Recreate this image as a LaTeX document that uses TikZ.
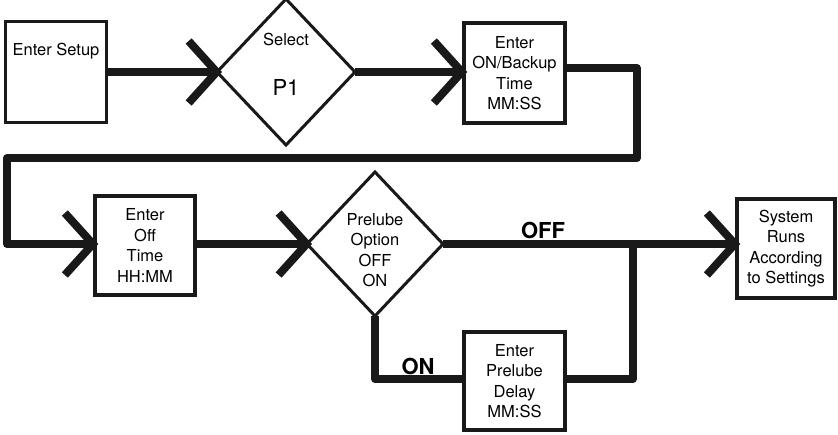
\documentclass[tikz,border=0pt]{standalone}
\usepackage{fontspec}
\setmainfont{TeX Gyre Heros}
\usetikzlibrary{shapes.geometric,arrows.meta}
\begin{document}
\begin{tikzpicture}[x=1pt,y=-1pt,
  txt/.style={font=\fontsize{16.5}{20.5}\selectfont, align=center},
  box/.style={draw=black!90, line width=3.5pt, rectangle, inner sep=0pt, txt},
  dia/.style={draw=black!90, line width=3pt, diamond, inner sep=0pt, outer sep=0pt},
  conn/.style={draw=black!90, line width=8pt, line join=round},
  arr/.style={conn, shorten >=-5pt, -{Straight Barb[length=28pt,width=62pt,line cap=butt,line join=miter]}},
  lbl/.style={font=\fontsize{22}{24}\selectfont\bfseries}
]
\useasboundingbox (0,0) rectangle (838,434);

\node[box, minimum width=101pt, minimum height=101pt,
      label={[txt,anchor=center,yshift=-31pt]north:Enter Setup}] (setup) at (56,72) {};
\node[dia, minimum width=138pt, minimum height=146pt,
      label={[txt,yshift=33pt]center:Select},
      label={[font=\fontsize{22}{24}\selectfont,yshift=-15pt]center:P1}] (select) at (286,72) {};
\node[box, minimum width=101pt, minimum height=100pt] (backup) at (514.5,73) {Enter\\ON/Backup\\Time\\MM:SS};
\node[box, minimum width=100pt, minimum height=99pt] (off) at (145,245.5) {Enter\\Off\\Time\\HH:MM};
\node[dia, minimum width=136pt, minimum height=144pt,
      label={[txt,yshift=-6pt]center:Prelube\\Option\\OFF\\ON}] (prelube) at (375,244) {};
\node[box, minimum width=98pt, minimum height=99pt] (system) at (786,248.5) {System\\Runs\\According\\to Settings};
\node[box, minimum width=101pt, minimum height=98pt] (delay) at (514.5,381) {Enter\\Prelube\\Delay\\MM:SS};

\node[lbl] (offlbl) at (543,230) {OFF};
\node[lbl] (onlbl) at (418,366) {ON};

\coordinate (r1) at (637,158);
\coordinate (l1) at (7,158);
\coordinate (j) at (633,244);
\coordinate (d1) at (375,379);

\draw[arr] (setup.east) -- (select.west);
\draw[arr] (select.east) -- (select.east -| backup.west);
\draw[arr] ([yshift=5pt]backup.east) -| (r1) -- (l1) |- (prelube.west -| off.west);
\draw[arr] (off.east |- prelube.west) -- (prelube.west);
\draw[arr] (prelube.east) -- (prelube.east -| system.west);
\draw[conn] (prelube.south) -- (d1) -- (d1 -| delay.west);
\draw[conn] (delay.east |- d1) -| (j);
\end{tikzpicture}
\end{document}
